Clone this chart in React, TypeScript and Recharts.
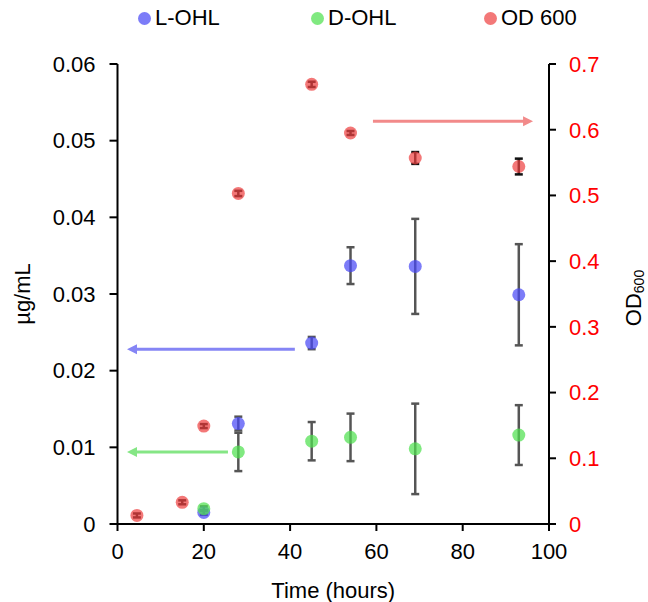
import React from 'react';
import { ScatterChart, Scatter, XAxis, YAxis, ErrorBar, ReferenceLine } from 'recharts';

// ---- data ----
const odHours = [4.5, 15, 20, 28, 45, 54, 69, 93];
const odValues = [0.013, 0.033, 0.149, 0.503, 0.669, 0.595, 0.557, 0.544];
const odErrors = [0.003, 0.003, 0.003, 0.004, 0.004, 0.003, 0.009, 0.012];

const ohlHours = [20, 28, 45, 54, 69, 93];
const lOhlValues = [0.0015, 0.0131, 0.0236, 0.0337, 0.0336, 0.0299];
const lOhlErrors = [0.0003, 0.0009, 0.0008, 0.0024, 0.0062, 0.0066];
const dOhlValues = [0.002, 0.0094, 0.0108, 0.0113, 0.0098, 0.0116];
const dOhlErrors = [0.0003, 0.0025, 0.0025, 0.0031, 0.0059, 0.0039];

const xTicks = [0, 20, 40, 60, 80, 100];
const leftTicks = [0, 0.01, 0.02, 0.03, 0.04, 0.05, 0.06];
const rightTicks = [0, 0.1, 0.2, 0.3, 0.4, 0.5, 0.6, 0.7];

const seriesNames = ['L-OHL', 'D-OHL', 'OD 600'];

// annotation arrows (data coordinates)
const arrowLeftAxis = [
  { from: 41.1, to: 2.2, y: 0.0228, color: '#8585f5' },
  { from: 25.6, to: 2.2, y: 0.0094, color: '#85e685' },
];
const arrowRightAxis = [{ from: 59.2, to: 96.3, y: 0.613, color: '#f28a8a' }];

const lData = ohlHours.map((x, i) => ({ x, y: lOhlValues[i], err: lOhlErrors[i] }));
const dData = ohlHours.map((x, i) => ({ x, y: dOhlValues[i], err: dOhlErrors[i] }));
const odData = odHours.map((x, i) => ({ x, y: odValues[i], err: odErrors[i] }));

const FONT = '"Liberation Sans", Arial, sans-serif';
const BLUE = '#4a4af5';
const GREEN = '#4fe04f';
const RED = '#ef4444';

const dot = (color: string) => (p: any) => (
  <circle cx={p.cx} cy={p.cy} r={6.5} fill={color} fillOpacity={0.72} />
);

const arrowShape = (color: string) => (p: any) => {
  const { x1, y1, x2, y2 } = p;
  const dir = x2 > x1 ? 1 : -1;
  const len = 10;
  const hw = 5;
  return (
    <g>
      <line x1={x1} y1={y1} x2={x2 - dir * len * 0.6} y2={y2} stroke={color} strokeWidth={3} />
      <polygon
        points={`${x2},${y2} ${x2 - dir * len},${y2 - hw} ${x2 - dir * len},${y2 + hw}`}
        fill={color}
      />
    </g>
  );
};

const legendColors = [BLUE, GREEN, RED];
const legendLeft = [138, 311, 484];

export default function App() {
  return (
    <div style={{ position: 'absolute', left: 0, top: 0, width: 648, height: 602, fontFamily: FONT, background: '#fff' }}>
      {seriesNames.map((name, i) => (
        <div
          key={name}
          style={{
            position: 'absolute',
            left: legendLeft[i],
            top: 5,
            height: 26,
            display: 'flex',
            alignItems: 'center',
            fontSize: 22,
            color: '#000',
            whiteSpace: 'nowrap',
          }}
        >
          <span
            style={{
              display: 'inline-block',
              width: 13,
              height: 13,
              borderRadius: '50%',
              background: legendColors[i],
              opacity: 0.72,
              marginRight: 4,
            }}
          />
          <span>{name}</span>
        </div>
      ))}
      <ScatterChart
        width={648}
        height={602}
        margin={{ top: 64, right: 0, bottom: 18, left: 0 }}
        style={{ fontFamily: FONT }}
      >
        <XAxis
          type="number"
          dataKey="x"
          domain={[0, 100]}
          ticks={xTicks}
          allowDataOverflow
          height={60}
          stroke="#000"
          strokeWidth={2}
          tickSize={7}
          tickMargin={12}
          tick={{ fill: '#000', fontSize: 22 }}
          label={{
            content: (props: any) => {
              const vb = props.viewBox;
              return (
                <text
                  x={vb.x + vb.width / 2}
                  y={vb.y + 66}
                  textAnchor="middle"
                  dominantBaseline="central"
                  fontSize={22}
                  fill="#000"
                  fontFamily={FONT}
                >
                  Time (hours)
                </text>
              );
            },
          }}
        />
        <YAxis
          yAxisId="left"
          type="number"
          dataKey="y"
          domain={[0, 0.06]}
          ticks={leftTicks}
          allowDataOverflow
          width={117.5}
          stroke="#000"
          strokeWidth={2}
          tickSize={8}
          tickMargin={14}
          tick={{ fill: '#000', fontSize: 22 }}
          label={{
            content: (props: any) => {
              const vb = props.viewBox;
              const cx = 22;
              const cy = vb.y + vb.height / 2;
              return (
                <text
                  x={cx}
                  y={cy}
                  transform={`rotate(-90 ${cx} ${cy})`}
                  textAnchor="middle"
                  dominantBaseline="central"
                  fontSize={22}
                  fill="#000"
                  fontFamily={FONT}
                >
                  µg/mL
                </text>
              );
            },
          }}
        />
        <YAxis
          yAxisId="right"
          orientation="right"
          type="number"
          dataKey="y"
          domain={[0, 0.7]}
          ticks={rightTicks}
          allowDataOverflow
          width={99}
          stroke="#000"
          strokeWidth={2}
          tickSize={7}
          tickMargin={13}
          tick={{ fill: '#ff0000', fontSize: 22 }}
          label={{
            content: (props: any) => {
              const vb = props.viewBox;
              const cx = 633;
              const cy = vb.y + vb.height / 2 + 4;
              return (
                <text
                  x={cx}
                  y={cy}
                  transform={`rotate(-90 ${cx} ${cy})`}
                  textAnchor="middle"
                  dominantBaseline="central"
                  fontSize={22}
                  fill="#000"
                  fontFamily={FONT}
                >
                  <tspan>OD</tspan>
                  <tspan fontSize={14} dy={6}>600</tspan>
                </text>
              );
            },
          }}
        />
        {arrowLeftAxis.map((a, i) => (
          <ReferenceLine
            key={'al' + i}
            yAxisId="left"
            segment={[{ x: a.from, y: a.y }, { x: a.to, y: a.y }]}
            stroke={a.color}
            shape={arrowShape(a.color)}
          />
        ))}
        {arrowRightAxis.map((a, i) => (
          <ReferenceLine
            key={'ar' + i}
            yAxisId="right"
            segment={[{ x: a.from, y: a.y }, { x: a.to, y: a.y }]}
            stroke={a.color}
            shape={arrowShape(a.color)}
          />
        ))}
        <Scatter name={seriesNames[0]} data={lData} yAxisId="left" shape={dot(BLUE)} isAnimationActive={false}>
          <ErrorBar dataKey="err" direction="y" width={4} stroke="#555" strokeWidth={2.5} isAnimationActive={false} />
        </Scatter>
        <Scatter name={seriesNames[1]} data={dData} yAxisId="left" shape={dot(GREEN)} isAnimationActive={false}>
          <ErrorBar dataKey="err" direction="y" width={4} stroke="#555" strokeWidth={2.5} isAnimationActive={false} />
        </Scatter>
        <Scatter name={seriesNames[2]} data={odData} yAxisId="right" shape={dot(RED)} isAnimationActive={false}>
          <ErrorBar dataKey="err" direction="y" width={4} stroke="#111" strokeWidth={2.5} isAnimationActive={false} />
        </Scatter>
      </ScatterChart>
    </div>
  );
}
